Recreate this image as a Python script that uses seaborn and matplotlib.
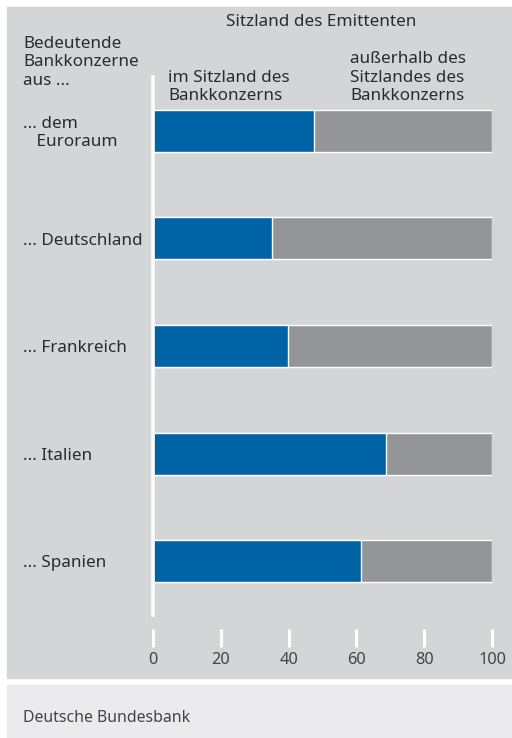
import matplotlib
matplotlib.use("Agg")
import matplotlib.pyplot as plt
import seaborn as sns
import pandas as pd
from matplotlib.patches import Rectangle
from matplotlib.transforms import blended_transform_factory

# Daten (Anteile in %)
laender = ["... dem\n   Euroraum", "... Deutschland", "... Frankreich", "... Italien", "... Spanien"]
im_sitzland = [47.5, 35.1, 39.8, 68.7, 61.4]
ausserhalb = [52.5, 64.9, 60.2, 31.3, 38.6]
ticks = [0, 20, 40, 60, 80, 100]

blau = "#0063a6"
grau = "#939598"
hintergrund = "#d4d5d7"
fuss = "#ebebed"
textfarbe = "#2b2b2b"
fs = 12.3

sns.set_style("white")
plt.rcParams["font.family"] = ["Noto Sans", "DejaVu Sans"]

df = pd.DataFrame({"land": laender, "innen": im_sitzland, "aussen": ausserhalb})
df["gesamt"] = df["innen"] + df["aussen"]

fig = plt.figure(figsize=(5.12, 7.38), dpi=100)
W, H = 512, 738

def fx(px):
    return px / W

def fy(py):
    return 1 - py / H

# Hintergrundflaechen
fig.patches.append(Rectangle((fx(7), fy(678)), fx(512) - fx(7), fy(7) - fy(678),
                             transform=fig.transFigure, color=hintergrund, zorder=-5))
fig.patches.append(Rectangle((fx(7), fy(738)), fx(512) - fx(7), fy(685) - fy(738),
                             transform=fig.transFigure, color=fuss, zorder=-5))

ax = fig.add_axes([fx(153), fy(615), fx(492) - fx(153), fy(77) - fy(615)])
ax.set_facecolor("none")
ax.set_zorder(2)

sns.barplot(data=df, y="land", x="gesamt", orient="h", color=grau, width=0.39,
            saturation=1, ax=ax)
sns.barplot(data=df, y="land", x="innen", orient="h", color=blau, width=0.39,
            saturation=1, ax=ax)

ax.set_xlim(0, 100)
ax.set_ylim(4.5, -0.5)
ax.set_xlabel("")
ax.set_ylabel("")
ax.set_yticks([])
for s in ["top", "right", "bottom"]:
    ax.spines[s].set_visible(False)
ax.spines["left"].set_color("white")
ax.spines["left"].set_linewidth(2.6)
ax.spines["left"].set_zorder(5)
ax.spines["bottom"].set_position(("outward", 10))
ax.set_xticks(ticks)
ax.set_xticklabels([str(t) for t in ticks])
ax.tick_params(axis="x", bottom=True, colors="white", length=13, width=2.2, pad=3.5,
               labelcolor="#444444", labelsize=11.8)

# Kategorien links
tr = blended_transform_factory(fig.transFigure, ax.transData)
for i, lab in enumerate(laender):
    ax.text(fx(23), i + 0.02, lab, transform=tr, ha="left", va="center", multialignment="left",
            fontsize=fs, color=textfarbe, linespacing=1.15, clip_on=False)

# Kopfzeilen
fig.text(fx(321), fy(22), "Sitzland des Emittenten", ha="center", va="center",
         fontsize=fs, color=textfarbe)
fig.text(fx(23), fy(36), "Bedeutende\nBankkonzerne\naus ...", ha="left", va="top",
         multialignment="left", fontsize=fs, color=textfarbe, linespacing=1.2)
fig.text(fx(168), fy(104), "im Sitzland des\nBankkonzerns", ha="left", va="bottom",
         multialignment="left", fontsize=fs, color=textfarbe, linespacing=1.2)
fig.text(fx(350), fy(104), "außerhalb des\nSitzlandes des\nBankkonzerns", ha="left",
         va="bottom", multialignment="left", fontsize=fs, color=textfarbe, linespacing=1.2)

fig.text(fx(23), fy(718), "Deutsche Bundesbank", ha="left", va="center",
         fontsize=11.4, color="#444444")

fig.savefig("out.png", dpi=100, facecolor="white")
